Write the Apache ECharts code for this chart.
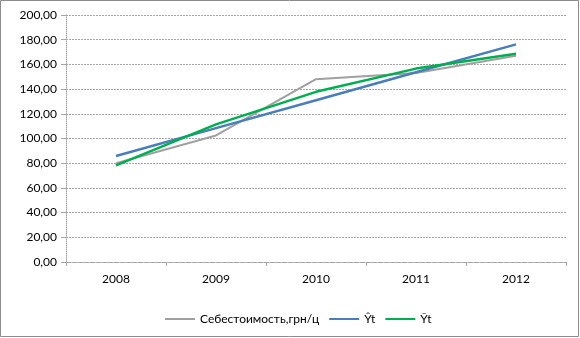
<!DOCTYPE html>
<html>
<head>
<meta charset="utf-8">
<script src="https://cdn.jsdelivr.net/npm/echarts@6/dist/echarts.min.js"></script>
<style>
  html, body { margin: 0; padding: 0; background: #fff; }
  #chart { width: 580px; height: 338px; }
</style>
</head>
<body>
<div id="chart"></div>
<script>
// Years on the category axis
const years = ['2008', '2009', '2010', '2011', '2012'];

// Actual cost values, UAH per centner
const costActual = [80.0, 102.5, 148.0, 153.0, 167.0];

// Linear trend
const trendLinear = [85.8, 108.4, 131.0, 153.6, 176.2];

// Second trend (curved)
const trendCurve = [78.2, 111.4, 137.8, 156.6, 168.6];

// Series names shown in the legend
const seriesNames = ['Себестоимость,грн/ц', 'Ŷt', 'Ỹt'];

const FONT = 'Lato, "Open Sans", sans-serif';

const chart = echarts.init(document.getElementById('chart'), null, { renderer: 'canvas' });

chart.setOption({
  animation: false,
  backgroundColor: '#ffffff',
  grid: { left: 66, right: 14, top: 15, bottom: 76, containLabel: false },
  graphic: [{
    type: 'rect',
    shape: { x: 0.5, y: 0.5, width: 578, height: 336 },
    style: { fill: 'none', stroke: '#8c8c8c', lineWidth: 1 },
    silent: true
  }],
  legend: {
    left: 160,
    top: 308,
    itemWidth: 30,
    itemHeight: 14,
    itemGap: 10,
    icon: 'path://M0,6 L30,6 L30,8 L0,8 Z',
    textStyle: { fontFamily: FONT, fontSize: 12, color: '#000' },
    data: seriesNames
  },
  xAxis: {
    type: 'category',
    data: years,
    boundaryGap: true,
    axisLine: { lineStyle: { color: '#a6a6a6', type: 'dotted', width: 1 } },
    axisTick: { show: true, length: 4, inside: false, lineStyle: { color: '#a6a6a6' } },
    axisLabel: { fontFamily: FONT, fontSize: 12, color: '#000', margin: 11 },
    splitLine: { show: false }
  },
  yAxis: {
    type: 'value',
    min: 0,
    max: 200,
    interval: 20,
    axisLine: { show: true, lineStyle: { color: '#a6a6a6', type: 'dotted', width: 1 } },
    axisTick: { show: true, length: 5, lineStyle: { color: '#a6a6a6' } },
    axisLabel: {
      fontFamily: FONT, fontSize: 12, color: '#000', margin: 9,
      formatter: v => v.toFixed(2).replace('.', ',')
    },
    splitLine: { show: true, lineStyle: { color: '#a6a6a6', type: [2, 1], width: 1 } }
  },
  series: [
    {
      name: seriesNames[0], type: 'line', data: costActual,
      symbol: 'none', lineStyle: { color: '#a0a0a0', width: 2 },
      itemStyle: { color: '#a0a0a0' }, z: 2
    },
    {
      name: seriesNames[1], type: 'line', data: trendLinear,
      symbol: 'none', lineStyle: { color: '#4a7ebb', width: 2.5 },
      itemStyle: { color: '#4a7ebb' }, z: 3
    },
    {
      name: seriesNames[2], type: 'line', data: trendCurve,
      symbol: 'none', lineStyle: { color: '#00b050', width: 2.5 },
      itemStyle: { color: '#00b050' }, z: 4
    }
  ]
});
</script>
</body>
</html>
